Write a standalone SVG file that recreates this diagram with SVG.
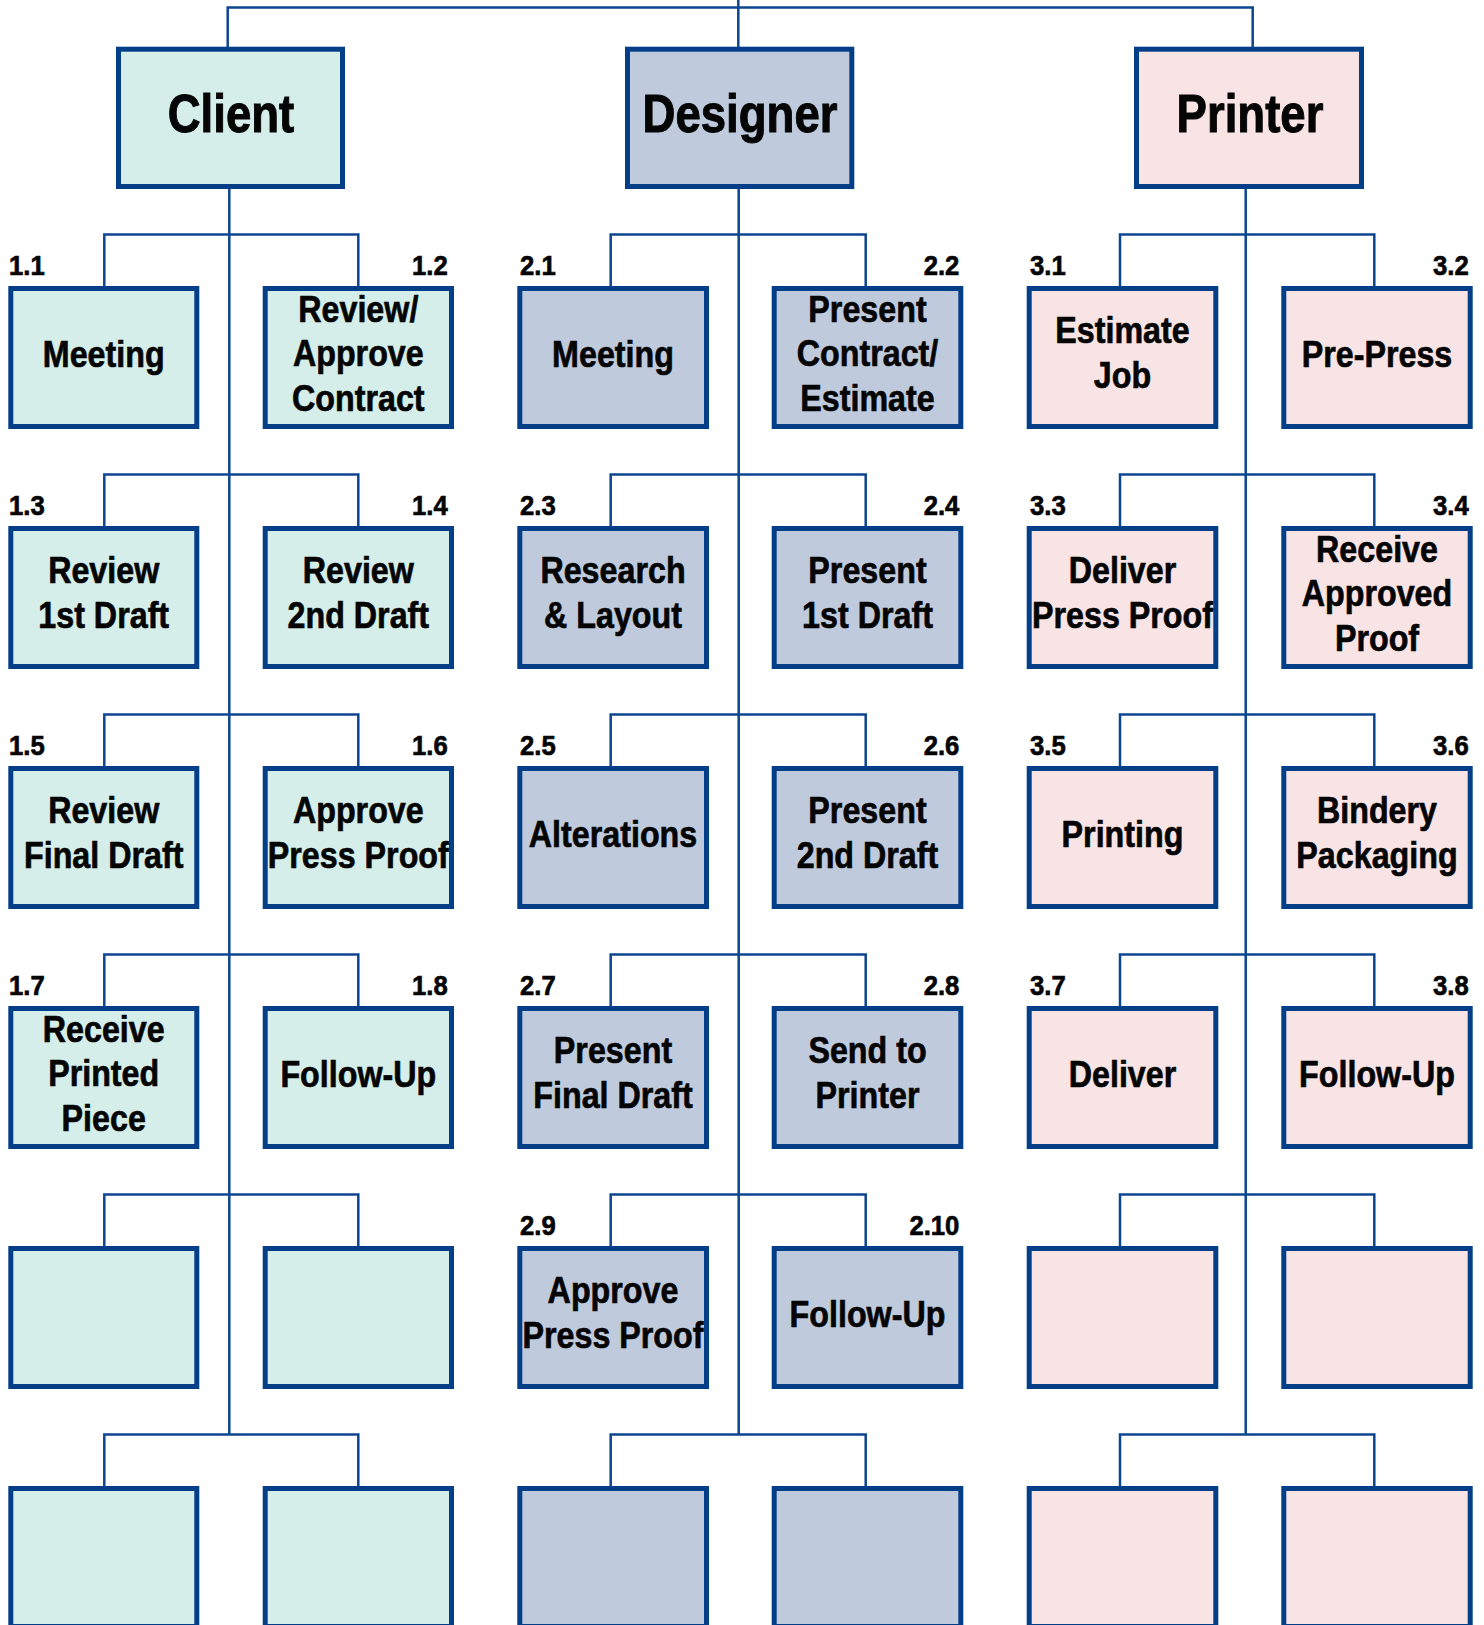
<svg xmlns="http://www.w3.org/2000/svg" width="1484" height="1625" viewBox="0 0 1484 1625">
<style>
.box{stroke:#033f89;stroke-width:5}
.c{fill:#d5eeea}
.d{fill:#bfcbdd}
.p{fill:#f9e4e5}
.conn{fill:none;stroke:#0c4590;stroke-width:2.5}
text{font-family:"Liberation Sans",Arial,sans-serif;font-weight:bold;fill:#050505;stroke:#050505;stroke-width:0.7}
.h{font-size:53px;text-anchor:middle;stroke-width:1}
.t{font-size:37.5px;text-anchor:middle}
.n{font-size:28.5px}
.r{text-anchor:end}
</style>
<rect width="1484" height="1625" fill="#fff"/>
<g id="connectors">
<path class="conn" d="M227.7 47V7.5H1252.7V47M738.3 0V47"/>
<path class="conn" d="M229.3 189V1434.5M738.7 189V1434.5M1245.7 189V1434.5"/>
<path class="conn" d="M104.3 286V234.5H358.3V286M610.7 286V234.5H865.7V286M1120 286V234.5H1374.3V286"/>
<path class="conn" d="M104.3 526V474.5H358.3V526M610.7 526V474.5H865.7V526M1120 526V474.5H1374.3V526"/>
<path class="conn" d="M104.3 766V714.5H358.3V766M610.7 766V714.5H865.7V766M1120 766V714.5H1374.3V766"/>
<path class="conn" d="M104.3 1006V954.5H358.3V1006M610.7 1006V954.5H865.7V1006M1120 1006V954.5H1374.3V1006"/>
<path class="conn" d="M104.3 1246V1194.5H358.3V1246M610.7 1246V1194.5H865.7V1246M1120 1246V1194.5H1374.3V1246"/>
<path class="conn" d="M104.3 1486V1434.5H358.3V1486M610.7 1486V1434.5H865.7V1486M1120 1486V1434.5H1374.3V1486"/>
</g>
<g id="client"><rect class="box c" x="118.5" y="49.2" width="224" height="137.3"/><text class="h" transform="translate(231 131.7) scale(.86 1)">Client</text></g>
<g id="designer"><rect class="box d" x="627.5" y="49.2" width="224.3" height="137.3"/><text class="h" transform="translate(740 131.7) scale(.86 1)">Designer</text></g>
<g id="printer"><rect class="box p" x="1136.5" y="49.2" width="225" height="137.3"/><text class="h" transform="translate(1250 131.7) scale(.86 1)">Printer</text></g>

<!-- Row 1 -->
<g id="n1_1"><rect class="box c" x="10.8" y="288.5" width="186" height="138"/><text class="n" transform="translate(9 275) scale(.9 1)">1.1</text><text class="t" transform="translate(103.7 366.7) scale(.86 1)">Meeting</text></g>
<g id="n1_2"><rect class="box c" x="265.2" y="288.5" width="186.3" height="138"/><text class="n r" transform="translate(447.7 275) scale(.9 1)">1.2</text><text class="t" transform="translate(358.3 321.5) scale(.86 1)"><tspan x="0">Review/</tspan><tspan x="0" dy="45">Approve</tspan><tspan x="0" dy="44.5">Contract</tspan></text></g>
<g id="n2_1"><rect class="box d" x="519.8" y="288.5" width="186.7" height="138"/><text class="n" transform="translate(520 275) scale(.9 1)">2.1</text><text class="t" transform="translate(613 366.7) scale(.86 1)">Meeting</text></g>
<g id="n2_2"><rect class="box d" x="774.2" y="288.5" width="186.6" height="138"/><text class="n r" transform="translate(959.3 275) scale(.9 1)">2.2</text><text class="t" transform="translate(867.5 321.5) scale(.86 1)"><tspan x="0">Present</tspan><tspan x="0" dy="45">Contract/</tspan><tspan x="0" dy="44.5">Estimate</tspan></text></g>
<g id="n3_1"><rect class="box p" x="1029.2" y="288.5" width="186.6" height="138"/><text class="n" transform="translate(1030 275) scale(.9 1)">3.1</text><text class="t" transform="translate(1122.5 343.3) scale(.86 1)"><tspan x="0">Estimate</tspan><tspan x="0" dy="45">Job</tspan></text></g>
<g id="n3_2"><rect class="box p" x="1283.8" y="288.5" width="186.4" height="138"/><text class="n r" transform="translate(1468.7 275) scale(.9 1)">3.2</text><text class="t" transform="translate(1377 366.7) scale(.86 1)">Pre-Press</text></g>

<!-- Row 2 -->
<g id="n1_3"><rect class="box c" x="10.8" y="528.5" width="186" height="138"/><text class="n" transform="translate(9 515) scale(.9 1)">1.3</text><text class="t" transform="translate(103.7 583.3) scale(.86 1)"><tspan x="0">Review</tspan><tspan x="0" dy="45">1st Draft</tspan></text></g>
<g id="n1_4"><rect class="box c" x="265.2" y="528.5" width="186.3" height="138"/><text class="n r" transform="translate(447.7 515) scale(.9 1)">1.4</text><text class="t" transform="translate(358.3 583.3) scale(.86 1)"><tspan x="0">Review</tspan><tspan x="0" dy="45">2nd Draft</tspan></text></g>
<g id="n2_3"><rect class="box d" x="519.8" y="528.5" width="186.7" height="138"/><text class="n" transform="translate(520 515) scale(.9 1)">2.3</text><text class="t" transform="translate(613 583.3) scale(.86 1)"><tspan x="0">Research</tspan><tspan x="0" dy="45">&amp; Layout</tspan></text></g>
<g id="n2_4"><rect class="box d" x="774.2" y="528.5" width="186.6" height="138"/><text class="n r" transform="translate(959.3 515) scale(.9 1)">2.4</text><text class="t" transform="translate(867.5 583.3) scale(.86 1)"><tspan x="0">Present</tspan><tspan x="0" dy="45">1st Draft</tspan></text></g>
<g id="n3_3"><rect class="box p" x="1029.2" y="528.5" width="186.6" height="138"/><text class="n" transform="translate(1030 515) scale(.9 1)">3.3</text><text class="t" transform="translate(1122.5 583.3) scale(.86 1)"><tspan x="0">Deliver</tspan><tspan x="0" dy="45">Press Proof</tspan></text></g>
<g id="n3_4"><rect class="box p" x="1283.8" y="528.5" width="186.4" height="138"/><text class="n r" transform="translate(1468.7 515) scale(.9 1)">3.4</text><text class="t" transform="translate(1377 561.5) scale(.86 1)"><tspan x="0">Receive</tspan><tspan x="0" dy="45">Approved</tspan><tspan x="0" dy="44.5">Proof</tspan></text></g>

<!-- Row 3 -->
<g id="n1_5"><rect class="box c" x="10.8" y="768.5" width="186" height="138"/><text class="n" transform="translate(9 755) scale(.9 1)">1.5</text><text class="t" transform="translate(103.7 823.3) scale(.86 1)"><tspan x="0">Review</tspan><tspan x="0" dy="45">Final Draft</tspan></text></g>
<g id="n1_6"><rect class="box c" x="265.2" y="768.5" width="186.3" height="138"/><text class="n r" transform="translate(447.7 755) scale(.9 1)">1.6</text><text class="t" transform="translate(358.3 823.3) scale(.86 1)"><tspan x="0">Approve</tspan><tspan x="0" dy="45">Press Proof</tspan></text></g>
<g id="n2_5"><rect class="box d" x="519.8" y="768.5" width="186.7" height="138"/><text class="n" transform="translate(520 755) scale(.9 1)">2.5</text><text class="t" transform="translate(613 846.7) scale(.86 1)">Alterations</text></g>
<g id="n2_6"><rect class="box d" x="774.2" y="768.5" width="186.6" height="138"/><text class="n r" transform="translate(959.3 755) scale(.9 1)">2.6</text><text class="t" transform="translate(867.5 823.3) scale(.86 1)"><tspan x="0">Present</tspan><tspan x="0" dy="45">2nd Draft</tspan></text></g>
<g id="n3_5"><rect class="box p" x="1029.2" y="768.5" width="186.6" height="138"/><text class="n" transform="translate(1030 755) scale(.9 1)">3.5</text><text class="t" transform="translate(1122.5 846.7) scale(.86 1)">Printing</text></g>
<g id="n3_6"><rect class="box p" x="1283.8" y="768.5" width="186.4" height="138"/><text class="n r" transform="translate(1468.7 755) scale(.9 1)">3.6</text><text class="t" transform="translate(1377 823.3) scale(.86 1)"><tspan x="0">Bindery</tspan><tspan x="0" dy="45">Packaging</tspan></text></g>

<!-- Row 4 -->
<g id="n1_7"><rect class="box c" x="10.8" y="1008.5" width="186" height="138"/><text class="n" transform="translate(9 995) scale(.9 1)">1.7</text><text class="t" transform="translate(103.7 1041.5) scale(.86 1)"><tspan x="0">Receive</tspan><tspan x="0" dy="45">Printed</tspan><tspan x="0" dy="44.5">Piece</tspan></text></g>
<g id="n1_8"><rect class="box c" x="265.2" y="1008.5" width="186.3" height="138"/><text class="n r" transform="translate(447.7 995) scale(.9 1)">1.8</text><text class="t" transform="translate(358.3 1086.7) scale(.86 1)">Follow-Up</text></g>
<g id="n2_7"><rect class="box d" x="519.8" y="1008.5" width="186.7" height="138"/><text class="n" transform="translate(520 995) scale(.9 1)">2.7</text><text class="t" transform="translate(613 1063.3) scale(.86 1)"><tspan x="0">Present</tspan><tspan x="0" dy="45">Final Draft</tspan></text></g>
<g id="n2_8"><rect class="box d" x="774.2" y="1008.5" width="186.6" height="138"/><text class="n r" transform="translate(959.3 995) scale(.9 1)">2.8</text><text class="t" transform="translate(867.5 1063.3) scale(.86 1)"><tspan x="0">Send to</tspan><tspan x="0" dy="45">Printer</tspan></text></g>
<g id="n3_7"><rect class="box p" x="1029.2" y="1008.5" width="186.6" height="138"/><text class="n" transform="translate(1030 995) scale(.9 1)">3.7</text><text class="t" transform="translate(1122.5 1086.7) scale(.86 1)">Deliver</text></g>
<g id="n3_8"><rect class="box p" x="1283.8" y="1008.5" width="186.4" height="138"/><text class="n r" transform="translate(1468.7 995) scale(.9 1)">3.8</text><text class="t" transform="translate(1377 1086.7) scale(.86 1)">Follow-Up</text></g>

<!-- Row 5 -->
<g id="c_e1"><rect class="box c" x="10.8" y="1248.5" width="186" height="138"/></g>
<g id="c_e2"><rect class="box c" x="265.2" y="1248.5" width="186.3" height="138"/></g>
<g id="n2_9"><rect class="box d" x="519.8" y="1248.5" width="186.7" height="138"/><text class="n" transform="translate(520 1235) scale(.9 1)">2.9</text><text class="t" transform="translate(613 1303.3) scale(.86 1)"><tspan x="0">Approve</tspan><tspan x="0" dy="45">Press Proof</tspan></text></g>
<g id="n2_10"><rect class="box d" x="774.2" y="1248.5" width="186.6" height="138"/><text class="n r" transform="translate(959.3 1235) scale(.9 1)">2.10</text><text class="t" transform="translate(867.5 1326.7) scale(.86 1)">Follow-Up</text></g>
<g id="p_e1"><rect class="box p" x="1029.2" y="1248.5" width="186.6" height="138"/></g>
<g id="p_e2"><rect class="box p" x="1283.8" y="1248.5" width="186.4" height="138"/></g>

<!-- Row 6 -->
<g id="c_e3"><rect class="box c" x="10.8" y="1488.5" width="186" height="138"/></g>
<g id="c_e4"><rect class="box c" x="265.2" y="1488.5" width="186.3" height="138"/></g>
<g id="d_e1"><rect class="box d" x="519.8" y="1488.5" width="186.7" height="138"/></g>
<g id="d_e2"><rect class="box d" x="774.2" y="1488.5" width="186.6" height="138"/></g>
<g id="p_e3"><rect class="box p" x="1029.2" y="1488.5" width="186.6" height="138"/></g>
<g id="p_e4"><rect class="box p" x="1283.8" y="1488.5" width="186.4" height="138"/></g>
</svg>
